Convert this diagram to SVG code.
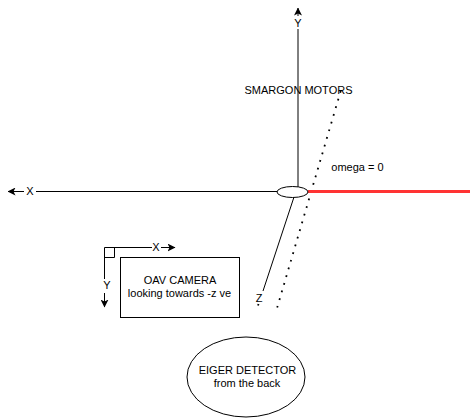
<svg xmlns="http://www.w3.org/2000/svg" width="473" height="418" viewBox="0 0 473 418">
<style>
text{font-family:"Liberation Sans",Arial,sans-serif;font-size:11px;fill:#000;text-anchor:middle}
.ax{fill:none;stroke:#000;stroke-width:1}
.shape{fill:#fff;stroke:#000;stroke-width:1}
</style>
<defs><marker id="a" viewBox="0 0 8 8" refX="7.500" refY="4" markerWidth="8" markerHeight="8" markerUnits="userSpaceOnUse" orient="auto"><path d="M0 0L8 4L0 8L2 4Z" fill="#000"/></marker></defs>
<rect width="473" height="418" fill="#fff"/>
<g id="connectors">
<path class="ax" d="M298 187V29" />
<path class="ax" d="M298 16V8" marker-end="url(#a)"/>
<path class="ax" d="M277 191.500H36"/>
<path class="ax" d="M24 191.500H8" marker-end="url(#a)"/>
<path class="ax" d="M294 197L263 291"/>
<path d="M258.500 304L258 305.500" fill="none" stroke="#000" stroke-width="1.800"/>
<path d="M340.700 91L277.200 307.500" fill="none" stroke="#000" stroke-width="1.800" stroke-dasharray="1.800 6.200"/>
<path d="M308 191.500H470" fill="none" stroke="#ff3333" stroke-width="3"/>
<path class="ax" d="M104.500 247.500H152"/>
<path class="ax" d="M161 247.500H175" marker-end="url(#a)"/>
<path class="ax" d="M104.500 247.500V279"/>
<path class="ax" d="M104.500 293V307" marker-end="url(#a)"/>
<path class="ax" d="M104.500 257.500H114.500V247.500"/>
</g>
<g id="origin"><ellipse class="shape" cx="292.500" cy="192" rx="15.500" ry="5.500"/></g>
<g id="camera"><rect class="shape" x="120.500" y="257.500" width="119" height="60"/>
<text x="180" y="284">OAV CAMERA</text><text x="179.500" y="297">looking towards -z ve</text></g>
<g id="detector"><ellipse class="shape" cx="246" cy="377" rx="59" ry="40"/>
<text x="247.500" y="374">EIGER DETECTOR</text><text x="247" y="387">from the back</text></g>
<g id="labels">
<text x="298" y="27">Y</text>
<text x="298.500" y="94">SMARGON MOTORS</text>
<text x="357.500" y="171">omega = 0</text>
<text x="30" y="195">X</text>
<text x="259" y="302">Z</text>
<text x="156" y="251">X</text>
<text x="107" y="289">Y</text>
</g>
</svg>
